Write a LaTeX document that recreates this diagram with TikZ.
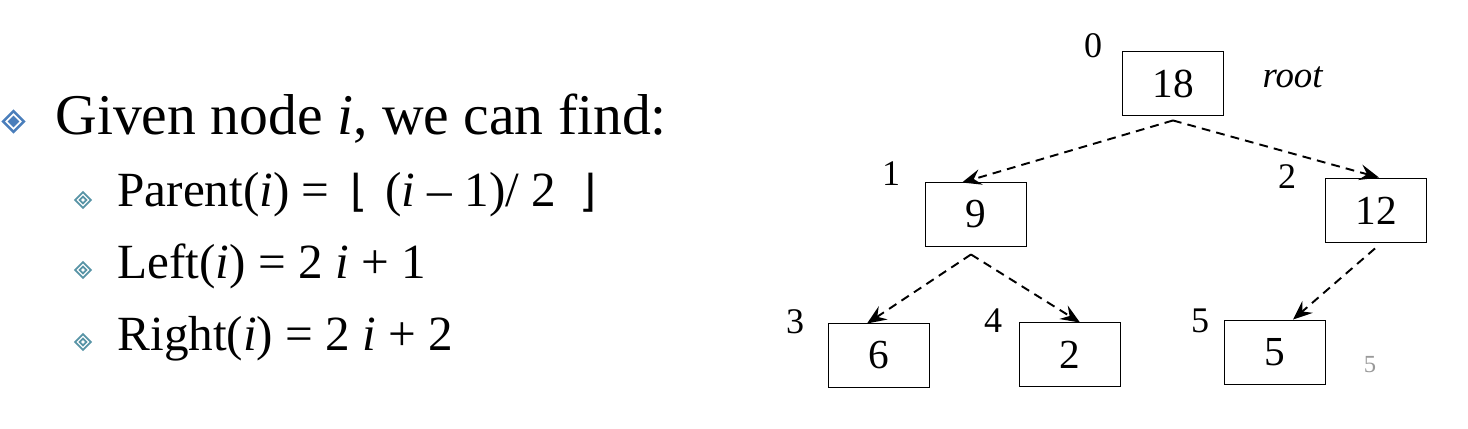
\documentclass[tikz,border=0pt]{standalone}
\usepackage{fontspec}
\setmainfont{Liberation Serif}
\newfontfamily\symfnt{DejaVu Sans}
\usepackage{tikz}
\usetikzlibrary{shapes,arrows.meta,positioning,calc}

\definecolor{bulblue}{RGB}{74,126,187}
\definecolor{subteal}{RGB}{88,148,166}

\newcommand{\mainsize}{\fontsize{32.8}{38}\selectfont}
\newcommand{\subsize}{\fontsize{28}{32}\selectfont}
\newcommand{\flr}[1]{{\symfnt\fontsize{25}{28}\selectfont #1}}

\begin{document}
\begin{tikzpicture}[x=0.02cm,y=-0.02cm,>={Stealth[length=11pt,width=9pt,inset=4pt]},
                    semithick]
  \tikzstyle{heapbox}=[draw,line width=1.1pt,minimum width=2.02cm,minimum height=1.28cm,
                       inner sep=0pt,font=\fontsize{23.5}{26}\selectfont]
  \tikzstyle{idx}=[inner sep=0pt,font=\fontsize{20.5}{22}\selectfont]
  \tikzstyle{link}=[->,line width=1.1pt,dash pattern=on 5pt off 3.5pt]
  \tikzstyle{bigbul}=[diamond,draw=bulblue,line width=1.4pt,inner sep=0pt,minimum size=0.44cm]
  \tikzstyle{bigdot}=[diamond,fill=bulblue,inner sep=0pt,minimum size=0.24cm]
  \tikzstyle{subbul}=[diamond,draw=subteal,line width=1pt,inner sep=0pt,minimum size=0.33cm]
  \tikzstyle{subdot}=[diamond,draw=subteal,line width=1pt,inner sep=0pt,minimum size=0.15cm]

  \useasboundingbox (0,0) rectangle (1468,429);

  % left text
  \node[bigbul] (b0) at (13.5,121.5) {};
  \node[bigdot] (b0i) at (b0) {};
  \node[anchor=base west,inner sep=0pt,font=\mainsize] (given) at (55,134)
       {Given node \textit{i}, we can find:};

  \node[subbul] (b1) at (83,200) {};
  \node[subdot] (b1i) at (b1) {};
  \node[anchor=base west,inner sep=0pt,font=\subsize] (parent) at (117,207)
       {Parent(\textit{i}) =\hspace{5pt} \flr{⌊}\hspace{3pt} (\textit{i} – 1)/ 2\hspace{6pt} \flr{⌋}};

  \node[subbul] (b2) at (83,270) {};
  \node[subdot] (b2i) at (b2) {};
  \node[anchor=base west,inner sep=0pt,font=\subsize] (left) at (117,278)
       {Left(\textit{i}) = 2 \textit{i} + 1};

  \node[subbul] (b3) at (83,342) {};
  \node[subdot] (b3i) at (b3) {};
  \node[anchor=base west,inner sep=0pt,font=\subsize] (right) at (117,350)
       {Right(\textit{i}) = 2 \textit{i} + 2};

  % heap tree
  \node[heapbox] (n0) at (1173,83.5)  {18};
  \node[heapbox] (n1) at (976,214.5)  {9};
  \node[heapbox] (n2) at (1376,210.5) {12};
  \node[heapbox] (n3) at (879,355.5)  {6};
  \node[heapbox] (n4) at (1070,354.5) {2};
  \node[heapbox] (n5) at (1275,352.5) {5};

  \node[idx] (i0) at (1093,46)  {0};
  \node[idx] (i1) at (891,174)  {1};
  \node[idx] (i2) at (1287,177) {2};
  \node[idx] (i3) at (795,322)  {3};
  \node[idx] (i4) at (993,321)  {4};
  \node[idx] (i5) at (1200,321) {5};
  \node[anchor=base west,inner sep=0pt,font=\fontsize{21}{23}\selectfont\itshape] (rt)
       at (1262,88) {root};

  \path[link] ($(n0.south)+(0,4)$)  edge ($(n1.north)+(-14,1)$)
                                    edge ($(n2.north)+(3,0)$)
              ($(n1.south)+(-5,7)$) edge ($(n3.north)+(-12,1)$)
                                    edge ($(n4.north)+(10,1)$)
              ($(n2.south)+(-1,5)$) edge ($(n5.north)+(18,0)$);

  \node[inner sep=0pt,text=gray!80,font=\fontsize{14}{16}\selectfont] (pg) at (1370,365) {5};
\end{tikzpicture}
\end{document}
